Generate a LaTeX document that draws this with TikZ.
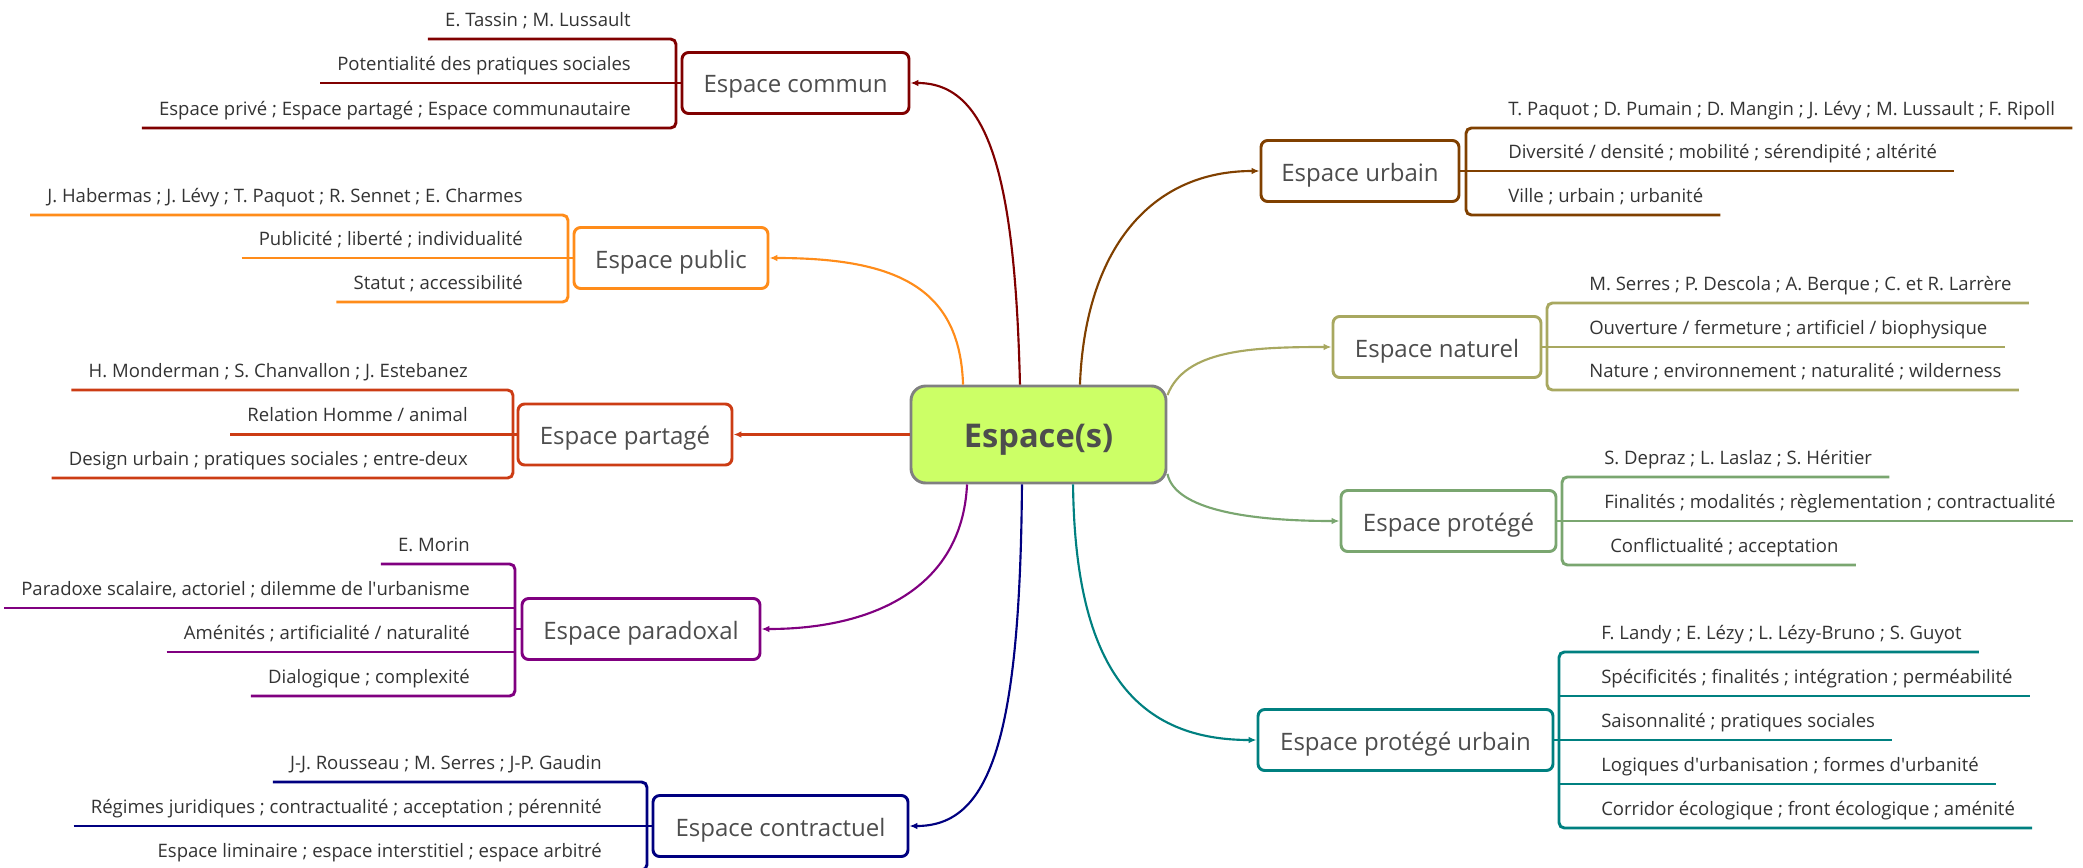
\documentclass[tikz,border=0pt]{standalone}
\usepackage{fontspec}
\setmainfont{Open Sans}
\usetikzlibrary{arrows.meta}

\definecolor{commun}{RGB}{128,0,0}
\definecolor{public}{RGB}{255,140,26}
\definecolor{partage}{RGB}{204,60,20}
\definecolor{paradoxal}{RGB}{128,0,128}
\definecolor{contractuel}{RGB}{0,0,128}
\definecolor{urbain}{RGB}{128,64,0}
\definecolor{naturel}{RGB}{168,168,96}
\definecolor{protege}{RGB}{122,166,112}
\definecolor{protegeurbain}{RGB}{0,128,128}
\definecolor{hubfill}{RGB}{204,255,102}
\definecolor{hubline}{RGB}{128,128,128}
\definecolor{inktext}{RGB}{77,77,77}
\definecolor{leaftext}{RGB}{51,51,51}

\begin{document}
\begin{tikzpicture}[x=0.75pt,y=0.75pt,yscale=-1,xscale=1,
  hub/.style={draw=hubline,fill=hubfill,line width=2.2pt,rounded corners=11pt,minimum width=191.25pt,minimum height=72.75pt,inner sep=0pt,text=inktext,font=\fontsize{24.5}{28}\selectfont\bfseries,text height=20pt,text depth=0pt},
  branchbox/.style={draw=#1,fill=white,line width=2.2pt,rounded corners=5pt,minimum height=45.75pt,inner sep=0pt,text=inktext,font=\fontsize{18}{21}\selectfont,text height=17pt,text depth=2pt},
  leaf/.style={inner xsep=12.75pt,inner ysep=0pt,text depth=9.4pt,text=leaftext,font=\fontsize{13.9}{16}\selectfont},
  stem/.style={draw=#1,line width=2.2pt},
  brace/.style={draw=#1,line width=2.2pt,rounded corners=4pt},
  link/.style={draw=#1,line width=1.6pt,-{Latex[length=6pt,width=5pt]}}
]
\useasboundingbox (0,0) rectangle (2083,867);

%Shape: Rounded Rect [id:hub]
\node[hub] (espaces) at (1038.5,434.5) {Espace(s)};

% Espace commun
\node[branchbox=commun,minimum width=170.25pt] (commun) at (795.5,83) {Espace commun};
% Text Node
\node[leaf,anchor=south east] (commun-1) at (648,39) {E. Tassin ; M. Lussault};
\node[leaf,anchor=south east] (commun-2) at (648,83) {Potentialité des pratiques sociales};
\node[leaf,anchor=south east] (commun-3) at (648,128) {Espace privé ; Espace partagé ; Espace communautaire};
\coordinate (commun-brk) at (676,83);
\draw[brace=commun] (commun-1.south west) -| (commun-brk) |- (commun-3.south west);
\draw[stem=commun] (commun-2.south west) -- (commun.west);

% Espace public
\node[branchbox=public,minimum width=145.5pt] (public) at (671,258) {Espace public};
% Text Node
\node[leaf,anchor=south east] (public-1) at (540,215) {J. Habermas ; J. Lévy ; T. Paquot ; R. Sennet ; E. Charmes};
\node[leaf,anchor=south east] (public-2) at (540,258) {Publicité ; liberté ; individualité};
\node[leaf,anchor=south east] (public-3) at (540,302) {Statut ; accessibilité};
\coordinate (public-brk) at (568,258);
\draw[brace=public] (public-1.south west) -| (public-brk) |- (public-3.south west);
\draw[stem=public] (public-2.south west) -- (public.west);

% Espace partage
\node[branchbox=partage,minimum width=160.5pt] (partage) at (625,434.5) {Espace partagé};
% Text Node
\node[leaf,anchor=south east] (partage-1) at (485,390) {H. Monderman ; S. Chanvallon ; J. Estebanez};
\node[leaf,anchor=south east] (partage-2) at (485,434.5) {Relation Homme / animal};
\node[leaf,anchor=south east] (partage-3) at (485,478) {Design urbain ; pratiques sociales ; entre-deux};
\coordinate (partage-brk) at (513,434.5);
\draw[brace=partage] (partage-1.south west) -| (partage-brk) |- (partage-3.south west);
\draw[stem=partage] (partage-2.south west) -- (partage.west);

% Espace paradoxal
\node[branchbox=paradoxal,minimum width=178.5pt] (paradoxal) at (641,629) {Espace paradoxal};
% Text Node
\node[leaf,anchor=south east] (paradoxal-1) at (487,564) {E. Morin};
\node[leaf,anchor=south east] (paradoxal-2) at (487,608) {Paradoxe scalaire, actoriel ; dilemme de l\textquotesingle urbanisme};
\node[leaf,anchor=south east] (paradoxal-3) at (487,652) {Aménités ; artificialité / naturalité};
\node[leaf,anchor=south east] (paradoxal-4) at (487,696) {Dialogique ; complexité};
\coordinate (paradoxal-brk) at (515,629);
\draw[brace=paradoxal] (paradoxal-1.south west) -| (paradoxal-brk) |- (paradoxal-4.south west);
\draw[stem=paradoxal] (paradoxal-2.south west) -- (paradoxal-2.south west -| paradoxal-brk);
\draw[stem=paradoxal] (paradoxal-3.south west) -- (paradoxal-3.south west -| paradoxal-brk);
\draw[stem=paradoxal] (paradoxal-brk) -- (paradoxal.west);

% Espace contractuel
\node[branchbox=contractuel,minimum width=191.25pt] (contractuel) at (780.5,826) {Espace contractuel};
% Text Node
\node[leaf,anchor=south east] (contractuel-1) at (619,782) {J-J. Rousseau ; M. Serres ; J-P. Gaudin};
\node[leaf,anchor=south east] (contractuel-2) at (619,826) {Régimes juridiques ; contractualité ; acceptation ; pérennité};
\node[leaf,anchor=south east] (contractuel-3) at (619,870) {Espace liminaire ; espace interstitiel ; espace arbitré};
\coordinate (contractuel-brk) at (647,826);
\draw[brace=contractuel] (contractuel-1.south west) -| (contractuel-brk) |- (contractuel-3.south west);
\draw[stem=contractuel] (contractuel-2.south west) -- (contractuel.west);

% Espace urbain
\node[branchbox=urbain,minimum width=148.5pt] (urbain) at (1360,171) {Espace urbain};
% Text Node
\node[leaf,anchor=south west] (urbain-1) at (1491,128) {T. Paquot ; D. Pumain ; D. Mangin ; J. Lévy ; M. Lussault ; F. Ripoll};
\node[leaf,anchor=south west] (urbain-2) at (1491,171) {Diversité / densité ; mobilité ; sérendipité ; altérité};
\node[leaf,anchor=south west] (urbain-3) at (1491,215) {Ville ; urbain ; urbanité};
\coordinate (urbain-brk) at (1466,171);
\draw[brace=urbain] (urbain-1.south east) -| (urbain-brk) |- (urbain-3.south east);
\draw[stem=urbain] (urbain.east) -- (urbain-2.south east);

% Espace naturel
\node[branchbox=naturel,minimum width=156pt] (naturel) at (1437,347) {Espace naturel};
% Text Node
\node[leaf,anchor=south west] (naturel-1) at (1572,303) {M. Serres ; P. Descola ; A. Berque ; C. et R. Larrère};
\node[leaf,anchor=south west] (naturel-2) at (1572,347) {Ouverture / fermeture ; artificiel / biophysique};
\node[leaf,anchor=south west] (naturel-3) at (1572,390) {Nature ; environnement ; naturalité ; wilderness};
\coordinate (naturel-brk) at (1547,347);
\draw[brace=naturel] (naturel-1.south east) -| (naturel-brk) |- (naturel-3.south east);
\draw[stem=naturel] (naturel.east) -- (naturel-2.south east);

% Espace protege
\node[branchbox=protege,minimum width=161.25pt] (protege) at (1448.5,521) {Espace protégé};
% Text Node
\node[leaf,anchor=south west] (protege-1) at (1587,477) {S. Depraz ; L. Laslaz ; S. Héritier};
\node[leaf,anchor=south west] (protege-2) at (1587,521) {Finalités ; modalités ; règlementation ; contractualité};
\node[leaf,anchor=south west] (protege-3) at (1593,565) {Conflictualité ; acceptation};
\coordinate (protege-brk) at (1562,521);
\draw[brace=protege] (protege-1.south east) -| (protege-brk) |- (protege-3.south east);
\draw[stem=protege] (protege.east) -- (protege-2.south east);

% Espace protege urbain
\node[branchbox=protegeurbain,minimum width=221.25pt] (protegeurbain) at (1405.5,740) {Espace protégé urbain};
% Text Node
\node[leaf,anchor=south west] (protegeurbain-1) at (1584,652) {F. Landy ; E. Lézy ; L. Lézy-Bruno ; S. Guyot};
\node[leaf,anchor=south west] (protegeurbain-2) at (1584,696) {Spécificités ; finalités ; intégration ; perméabilité};
\node[leaf,anchor=south west] (protegeurbain-3) at (1584,740) {Saisonnalité ; pratiques sociales};
\node[leaf,anchor=south west] (protegeurbain-4) at (1584,784) {Logiques d\textquotesingle urbanisation ; formes d\textquotesingle urbanité};
\node[leaf,anchor=south west] (protegeurbain-5) at (1584,828) {Corridor écologique ; front écologique ; aménité};
\coordinate (protegeurbain-brk) at (1559,740);
\draw[brace=protegeurbain] (protegeurbain-1.south east) -| (protegeurbain-brk) |- (protegeurbain-5.south east);
\draw[stem=protegeurbain] (protegeurbain-2.south east -| protegeurbain-brk) -- (protegeurbain-2.south east);
\draw[stem=protegeurbain] (protegeurbain.east) -- (protegeurbain-3.south east);
\draw[stem=protegeurbain] (protegeurbain-4.south east -| protegeurbain-brk) -- (protegeurbain-4.south east);

% links from the hub
\draw[link=commun] ([xshift=-13.9pt]espaces.north) .. controls (1015,180) and (990,83) .. (commun.east);
\draw[link=public] ([xshift=-56.6pt]espaces.north) .. controls (960,290) and (900,258) .. (public.east);
\draw[link=partage] (espaces.west) -- (partage.east);
\draw[link=paradoxal] ([xshift=-53.6pt]espaces.south) .. controls (962,590) and (870,629) .. (paradoxal.east);
\draw[link=contractuel] ([xshift=-12.4pt]espaces.south) .. controls (1020,740) and (990,826) .. (contractuel.east);
\draw[link=urbain] ([xshift=31.1pt]espaces.north) .. controls (1085,250) and (1150,171) .. (urbain.west);
\draw[link=naturel] (espaces.17) .. controls (1185,350) and (1250,347) .. (naturel.west);
\draw[link=protege] (espaces.-17) .. controls (1175,510) and (1250,521) .. (protege.west);
\draw[link=protegeurbain] ([xshift=25.9pt]espaces.south) .. controls (1075,660) and (1130,740) .. (protegeurbain.west);

\end{tikzpicture}
\end{document}
